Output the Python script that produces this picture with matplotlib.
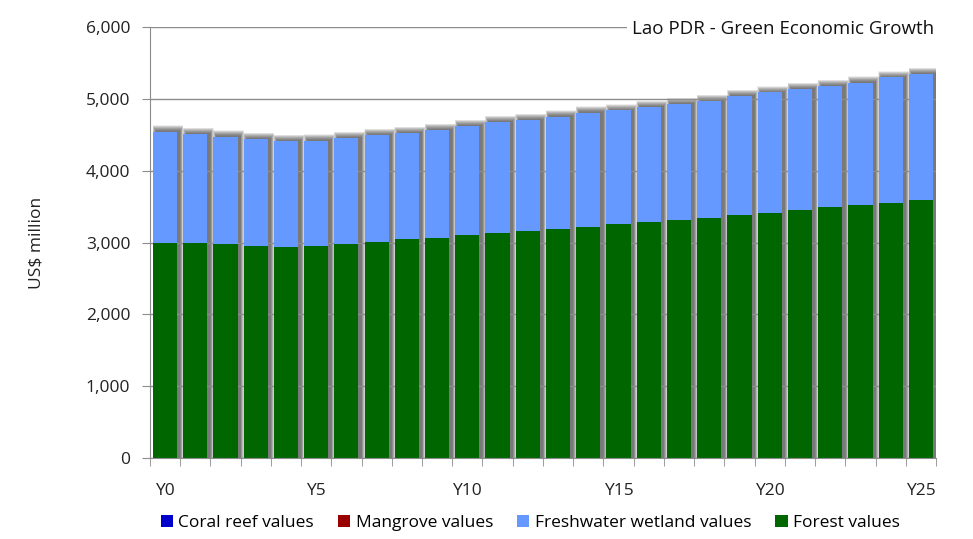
import matplotlib.pyplot as plt
import numpy as np

plt.rcParams['font.family'] = ['Open Sans', 'DejaVu Sans']

years = [f'Y{i}' for i in range(26)]
forest = [3000, 2990, 2976, 2957, 2943, 2957, 2985, 3013, 3046, 3064,
          3100, 3130, 3162, 3195, 3223, 3254, 3282, 3315, 3347, 3380,
          3412, 3454, 3491, 3524, 3556, 3598]
total = [4545, 4508, 4475, 4443, 4415, 4418, 4457, 4494, 4522, 4568,
         4620, 4677, 4705, 4752, 4808, 4838, 4884, 4930, 4972, 5042,
         5088, 5135, 5181, 5227, 5297, 5344]
freshwater = [t - f for t, f in zip(total, forest)]
mangrove = [0] * 26
coral = [0] * 26

c_coral = '#0000CC'
c_mangrove = '#990000'
c_fresh = '#6699FF'
c_forest = '#006600'

fig = plt.figure(figsize=(9.73, 5.39), dpi=100)
ax = fig.add_axes([0.154, 0.150, 0.808, 0.800])

x = np.arange(len(years))
w = 0.8

# blurred drop shadow: many translucent layers, wider/taller ones add fainter edge
for k in range(12):
    ax.bar(x + 0.1, np.array(total) + 10 + 7 * k, width=w + 0.02 * k,
           color='#3a3a3a', alpha=0.085, linewidth=0, zorder=0.5)

for v in range(0, 6001, 1000):
    ax.axhline(v, color='#8c8c8c', linewidth=1, zorder=1)

ax.bar(x, forest, width=w, color=c_forest, label='Forest values', zorder=2)
ax.bar(x, freshwater, bottom=forest, width=w, color=c_fresh,
       label='Freshwater wetland values', zorder=2)
ax.bar(x, mangrove, bottom=total, width=w, color=c_mangrove,
       label='Mangrove values', zorder=2)
ax.bar(x, coral, bottom=total, width=w, color=c_coral,
       label='Coral reef values', zorder=2)

ax.set_xlim(-0.5, len(years) - 0.5)
ax.set_ylim(0, 6000)
ax.set_yticks(range(0, 6001, 1000))
ax.set_yticklabels([f'{v:,}' for v in range(0, 6001, 1000)], fontsize=12.5,
                   color='#222222')
ax.set_xticks(x[::5])
ax.set_xticklabels(years[::5], fontsize=12.5, color='#222222')
ax.set_xticks(np.arange(-0.5, len(years)), minor=True)
ax.tick_params(axis='x', which='major', length=0, pad=18)
ax.tick_params(axis='x', which='minor', length=6, color='#8c8c8c')
ax.tick_params(axis='y', length=6, color='#8c8c8c', pad=8)

for s in ['top', 'right']:
    ax.spines[s].set_visible(False)
for s in ['left', 'bottom']:
    ax.spines[s].set_color('#8c8c8c')

ax.set_ylabel('US$ million', fontsize=12.5, color='#222222', labelpad=30)

ax.text(0.998, 0.995, 'Lao PDR - Green Economic Growth', transform=ax.transAxes,
        ha='right', va='center', fontsize=13.5, color='#111111', zorder=5,
        bbox=dict(facecolor='white', edgecolor='none', pad=4))

handles, labels = ax.get_legend_handles_labels()
order = [3, 2, 1, 0]
fig.legend([handles[i] for i in order], [labels[i] for i in order],
           loc='lower center', bbox_to_anchor=(0.545, -0.015), ncol=4,
           frameon=False, fontsize=12.5, handlelength=0.7, handleheight=0.7,
           handletextpad=0.3, columnspacing=1.4)

fig.savefig('out.png', dpi=100)
